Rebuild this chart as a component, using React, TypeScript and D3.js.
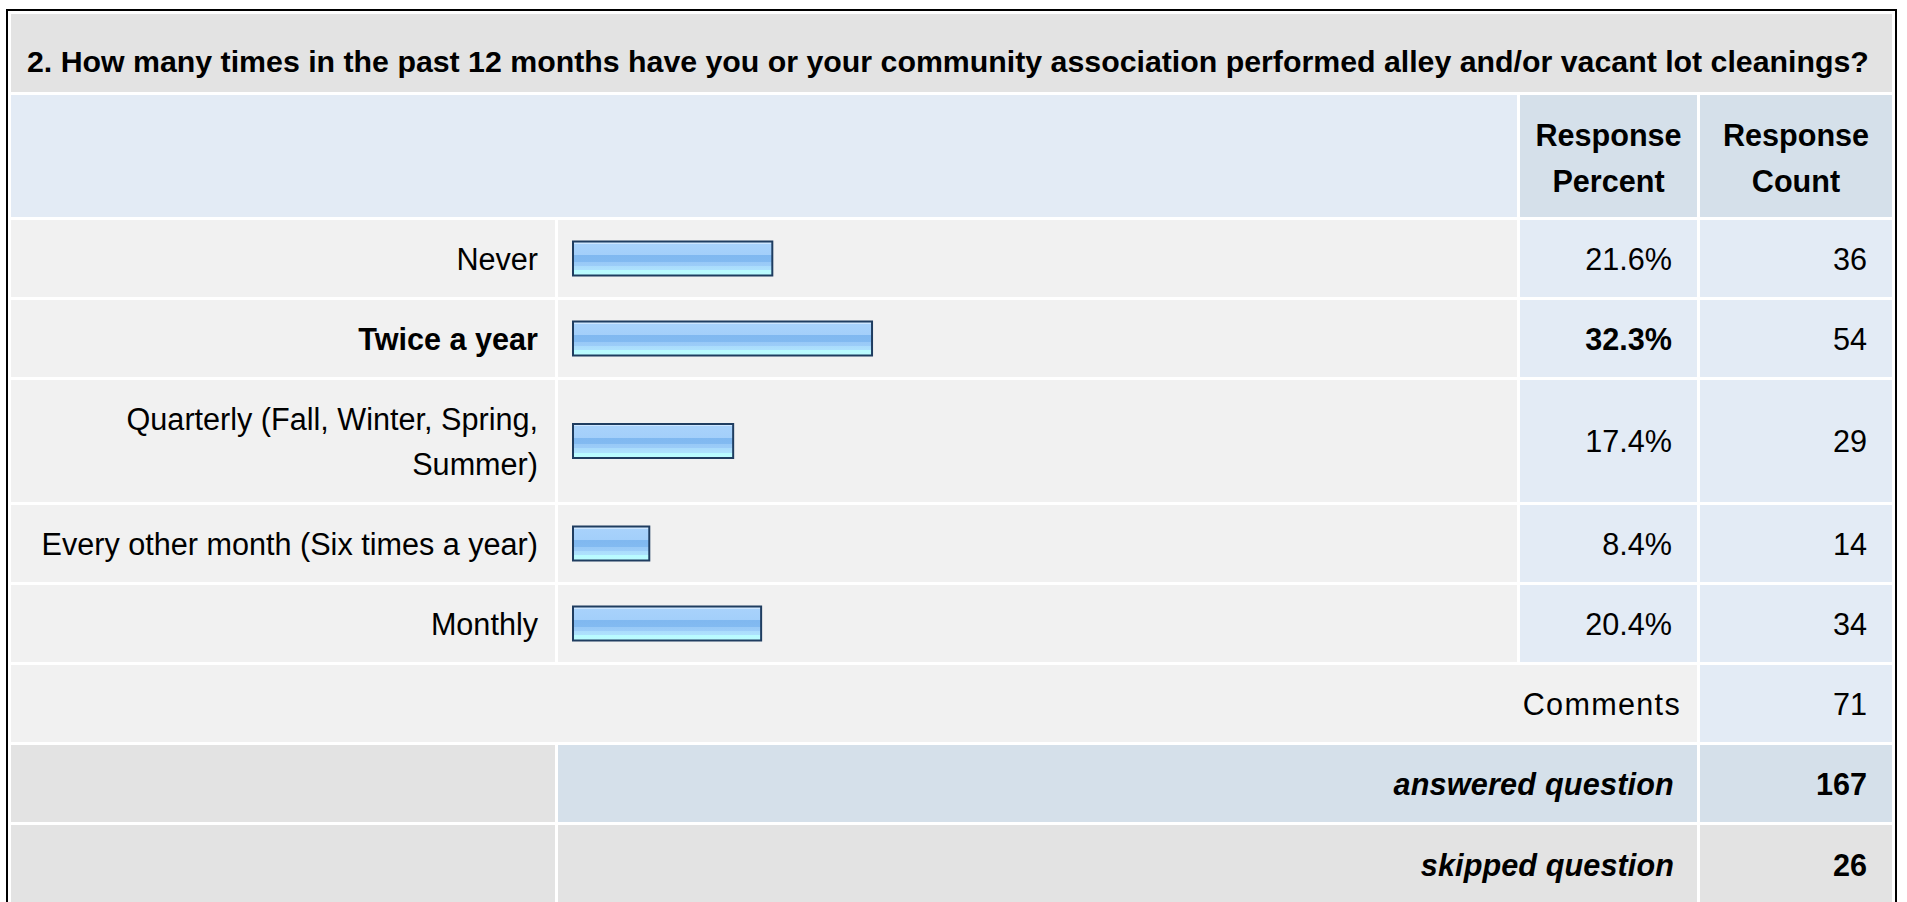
import React from "react";
import * as d3 from "d3";

const questionTitle =
  "2. How many times in the past 12 months have you or your community association performed alley and/or vacant lot cleanings?";
const headerPercent = ["Response", "Percent"];
const headerCount = ["Response", "Count"];
const categories = [
  "Never",
  "Twice a year",
  "Quarterly (Fall, Winter, Spring, Summer)",
  "Every other month (Six times a year)",
  "Monthly",
];
const percents = [21.6, 32.3, 17.4, 8.4, 20.4];
const counts = [36, 54, 29, 14, 34];
const commentsLabel = "Comments";
const commentsCount = 71;
const answeredLabel = "answered question";
const answeredCount = 167;
const skippedLabel = "skipped question";
const skippedCount = 26;

const FONT = "'Liberation Sans', Arial, Helvetica, sans-serif";
const FS = 30.6;
const LINE = 45;
const SP = 3;

function measure(text: string, weight: string) {
  const c = document.createElement("canvas");
  const ctx = c.getContext("2d")!;
  ctx.font = `${weight} ${FS}px ${FONT}`;
  return ctx.measureText(text).width;
}

function wrap(text: string, maxW: number, weight: string): string[] {
  const words = text.split(" ");
  const lines: string[] = [];
  let cur = "";
  for (const w of words) {
    const t = cur ? cur + " " + w : w;
    if (cur && measure(t, weight) > maxW) {
      lines.push(cur);
      cur = w;
    } else cur = t;
  }
  if (cur) lines.push(cur);
  return lines;
}

export default function App() {
  const W = 1907;
  const H = 902;
  const colLabel = [11, 555];
  const colBar = [558, 1517];
  const colPct = [1520, 1697];
  const colCnt = [1700, 1892];

  const maxIdx = percents.indexOf(d3.max(percents)!);
  const x = d3.scaleLinear().domain([0, 100]).range([572, 1504]);

  const titleTop = 14;
  const titleH = 78;
  const headTop = titleTop + titleH + SP;
  const headH = 122;
  let y = headTop + headH + SP;

  const rows = categories.map((c, i) => {
    const weight = i === maxIdx ? "bold" : "normal";
    const lines = wrap(c, 520, weight);
    const h = 77 + (lines.length - 1) * LINE;
    const r = { y, h, lines, weight, i };
    y += h + SP;
    return r;
  });
  const commentsY = y;
  const rowH = 77;
  const answeredY = commentsY + rowH + SP;
  const skippedY = answeredY + rowH + SP;

  const base = (top: number, h: number) => top + h / 2 + 11;

  const textStyle = { fontFamily: FONT, fontSize: FS, fill: "#000" };

  return (
    <svg
      width={W}
      height={H}
      style={{ position: "fixed", left: 0, top: 0, background: "#fff" }}
    >
      <defs>
        <linearGradient id="barGrad" x1="0" y1="0" x2="0" y2="1">
          <stop offset="0" stopColor="#cde6ff" />
          <stop offset="0.0625" stopColor="#cde6ff" />
          <stop offset="0.0625" stopColor="#a8d2fb" />
          <stop offset="0.406" stopColor="#a3cffa" />
          <stop offset="0.406" stopColor="#80b8f0" />
          <stop offset="0.594" stopColor="#82baf1" />
          <stop offset="0.594" stopColor="#98c9f7" />
          <stop offset="0.719" stopColor="#9ccdf8" />
          <stop offset="0.719" stopColor="#aadcfc" />
          <stop offset="0.844" stopColor="#aee2fd" />
          <stop offset="0.844" stopColor="#b8fbff" />
          <stop offset="1" stopColor="#bcfcff" />
        </linearGradient>
      </defs>
      <rect x={7} y={10} width={1889} height={H + 20} fill="#fff" stroke="#000" strokeWidth={2} />

      {/* title */}
      <rect x={colLabel[0]} y={titleTop} width={colCnt[1] - colLabel[0]} height={titleH} fill="#e3e3e3" />
      <text x={27} y={titleTop + titleH / 2 + 19} {...textStyle} fontSize={30.3} fontWeight="bold">
        {questionTitle}
      </text>

      {/* header */}
      <rect x={colLabel[0]} y={headTop} width={colBar[1] - colLabel[0]} height={headH} fill="#e3ebf5" />
      <rect x={colPct[0]} y={headTop} width={colPct[1] - colPct[0]} height={headH} fill="#d5e0ea" />
      <rect x={colCnt[0]} y={headTop} width={colCnt[1] - colCnt[0]} height={headH} fill="#d5e0ea" />
      {headerPercent.map((t, k) => (
        <text key={"hp" + k} x={(colPct[0] + colPct[1]) / 2} y={headTop + 51 + k * (LINE + 1)} textAnchor="middle" {...textStyle} fontWeight="bold">
          {t}
        </text>
      ))}
      {headerCount.map((t, k) => (
        <text key={"hc" + k} x={(colCnt[0] + colCnt[1]) / 2} y={headTop + 51 + k * (LINE + 1)} textAnchor="middle" {...textStyle} fontWeight="bold">
          {t}
        </text>
      ))}

      {/* data rows */}
      {rows.map((r) => {
        const cy = r.y + r.h / 2;
        const n = r.lines.length;
        return (
          <g key={r.i}>
            <rect x={colLabel[0]} y={r.y} width={colLabel[1] - colLabel[0]} height={r.h} fill="#f1f1f1" />
            <rect x={colBar[0]} y={r.y} width={colBar[1] - colBar[0]} height={r.h} fill="#f1f1f1" />
            <rect x={colPct[0]} y={r.y} width={colPct[1] - colPct[0]} height={r.h} fill="#e3ebf5" />
            <rect x={colCnt[0]} y={r.y} width={colCnt[1] - colCnt[0]} height={r.h} fill="#e3ebf5" />
            {r.lines.map((ln, k) => (
              <text
                key={k}
                x={538}
                y={cy + 11 + (k - (n - 1) / 2) * LINE}
                textAnchor="end"
                {...textStyle}
                fontWeight={r.weight}
              >
                {ln}
              </text>
            ))}
            <rect
              x={x(0) + 1}
              y={cy - 18 + 1}
              width={x(percents[r.i]) - x(0) - 2}
              height={34}
              fill="url(#barGrad)"
              stroke="#1f3d60"
              strokeWidth={2}
            />
            <text x={colPct[1] - 25} y={cy + 11} textAnchor="end" {...textStyle} fontWeight={r.weight}>
              {percents[r.i].toFixed(1) + "%"}
            </text>
            <text x={colCnt[1] - 25} y={cy + 11} textAnchor="end" {...textStyle}>
              {counts[r.i]}
            </text>
          </g>
        );
      })}

      {/* comments */}
      <rect x={colLabel[0]} y={commentsY} width={colPct[1] - colLabel[0]} height={rowH} fill="#f1f1f1" />
      <rect x={colCnt[0]} y={commentsY} width={colCnt[1] - colCnt[0]} height={rowH} fill="#e3ebf5" />
      <text x={colPct[1] - 16} y={base(commentsY, rowH)} textAnchor="end" {...textStyle} letterSpacing={1.3}>
        {commentsLabel}
      </text>
      <text x={colCnt[1] - 25} y={base(commentsY, rowH)} textAnchor="end" {...textStyle}>
        {commentsCount}
      </text>

      {/* answered */}
      <rect x={colLabel[0]} y={answeredY} width={colLabel[1] - colLabel[0]} height={rowH} fill="#e3e3e3" />
      <rect x={colBar[0]} y={answeredY} width={colPct[1] - colBar[0]} height={rowH} fill="#d5e0ea" />
      <rect x={colCnt[0]} y={answeredY} width={colCnt[1] - colCnt[0]} height={rowH} fill="#d5e0ea" />
      <text x={colPct[1] - 23} y={base(answeredY, rowH)} textAnchor="end" {...textStyle} fontWeight="bold" fontStyle="italic" letterSpacing={0.2}>
        {answeredLabel}
      </text>
      <text x={colCnt[1] - 25} y={base(answeredY, rowH)} textAnchor="end" {...textStyle} fontWeight="bold">
        {answeredCount}
      </text>

      {/* skipped */}
      <rect x={colLabel[0]} y={skippedY} width={colLabel[1] - colLabel[0]} height={rowH + 10} fill="#e3e3e3" />
      <rect x={colBar[0]} y={skippedY} width={colPct[1] - colBar[0]} height={rowH + 10} fill="#e3e3e3" />
      <rect x={colCnt[0]} y={skippedY} width={colCnt[1] - colCnt[0]} height={rowH + 10} fill="#e3e3e3" />
      <text x={colPct[1] - 23} y={base(skippedY, rowH) + 1} textAnchor="end" {...textStyle} fontWeight="bold" fontStyle="italic" letterSpacing={0.1}>
        {skippedLabel}
      </text>
      <text x={colCnt[1] - 25} y={base(skippedY, rowH) + 1} textAnchor="end" {...textStyle} fontWeight="bold">
        {skippedCount}
      </text>
    </svg>
  );
}
